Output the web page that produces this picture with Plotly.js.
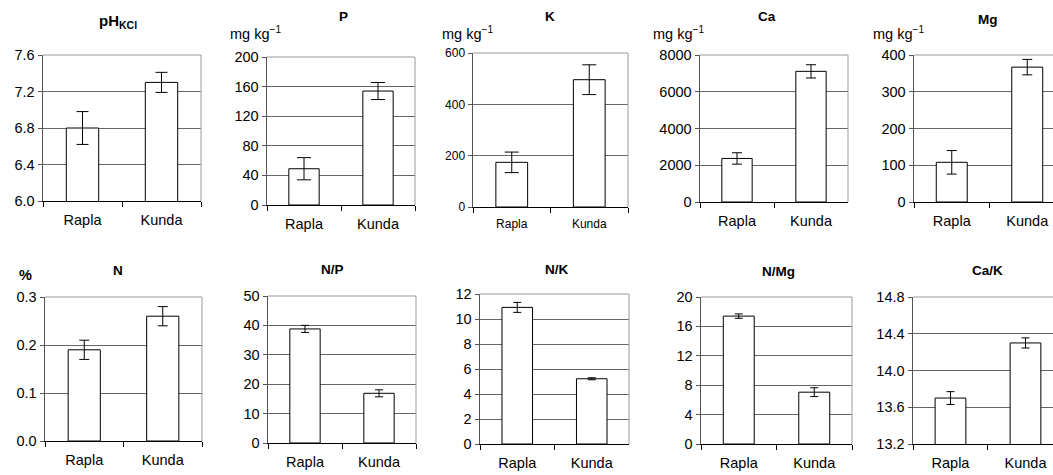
<!DOCTYPE html>
<html>
<head>
<meta charset="utf-8">
<script src="https://cdn.plot.ly/plotly-3.0.1.min.js"></script>
<style>html,body{margin:0;padding:0;background:#fff;}#chart{width:1053px;height:475px;}</style>
</head>
<body>
<div id="chart"></div>
<script>
// ---- data ----
const sites = ['Rapla', 'Kunda'];
const phVal = [6.8, 7.3];      const phErr = [0.18, 0.11];
const pVal = [49, 154];        const pErr = [15, 11.5];
const kVal = [174, 496];       const kErr = [40, 58];
const caVal = [2370, 7110];    const caErr = [310, 360];
const mgVal = [108, 367];      const mgErr = [32, 21];
const nVal = [0.19, 0.26];     const nErr = [0.02, 0.02];
const npVal = [38.8, 16.9];    const npErr = [1.2, 1.2];
const nkVal = [10.93, 5.22];   const nkErr = [0.4, 0.08];
const nmgVal = [17.4, 7.05];   const nmgErr = [0.3, 0.6];
const cakVal = [13.70, 14.30]; const cakErr = [0.07, 0.055];

const panelTitles = ['pH<sub>KCl</sub>', 'P', 'K', 'Ca', 'Mg', 'N', 'N/P', 'N/K', 'N/Mg', 'Ca/K'];
const unitLabels = ['', 'mg kg<sup>−1</sup>', 'mg kg<sup>−1</sup>', 'mg kg<sup>−1</sup>', 'mg kg<sup>−1</sup>', '<b>%</b>', '', '', '', ''];

// ---- layout geometry (pixels) ----
const W = 1053, H = 475;
const FONT = 'Liberation Sans, Arial, sans-serif';
const panels = [
  {v: phVal, e: phErr, box: [43, 201, 55, 201], yr: [6.0, 7.6], dt: 0.4, fmt: '.1f', xr: [-0.5, 1.5], cap: 6, fs: 14.5, title: [118, 21], unit: null, right: true},
  {v: pVal, e: pErr, box: [267, 415, 57, 205], yr: [0, 200], dt: 40, fmt: 'd', xr: [-0.5, 1.5], cap: 7, fs: 14.5, title: [343, 17], unit: [255, 33], right: true},
  {v: kVal, e: kErr, box: [473, 628, 53, 207], yr: [0, 600], dt: 200, fmt: 'd', xr: [-0.5, 1.5], cap: 7, fs: 12, title: [550, 17], unit: [467, 33], right: true},
  {v: caVal, e: caErr, box: [700, 848, 55, 202], yr: [0, 8000], dt: 2000, fmt: 'd', xr: [-0.5, 1.5], cap: 5, fs: 14.5, title: [767, 17], unit: [678, 33], right: true},
  {v: mgVal, e: mgErr, box: [914, 1053, 55, 202], yr: [0, 400], dt: 100, fmt: 'd', xr: [-0.5, 1.341], cap: 5, fs: 14.5, title: [988, 19], unit: [898, 33], right: false},
  {v: nVal, e: nErr, box: [45, 202, 297, 441], yr: [0, 0.3], dt: 0.1, fmt: '.1f', xr: [-0.5, 1.5], cap: 5, fs: 14.5, title: [118, 270], unit: [25, 275], right: true},
  {v: npVal, e: npErr, box: [268, 416, 296, 443], yr: [0, 50], dt: 10, fmt: 'd', xr: [-0.5, 1.5], cap: 4, fs: 14.5, title: [332, 269], unit: null, right: true},
  {v: nkVal, e: nkErr, box: [480, 629, 294, 444], yr: [0, 12], dt: 2, fmt: 'd', xr: [-0.5, 1.5], cap: 4, fs: 14.5, title: [557, 269], unit: null, right: true},
  {v: nmgVal, e: nmgErr, box: [701, 852, 297, 444], yr: [0, 20], dt: 4, fmt: 'd', xr: [-0.5, 1.5], cap: 4, fs: 14.5, title: [778, 271], unit: null, right: true},
  {v: cakVal, e: cakErr, box: [913, 1053, 297, 444], yr: [13.2, 14.8], dt: 0.4, fmt: '.1f', xr: [-0.5, 1.367], cap: 4, fs: 14.5, title: [987, 270], unit: null, right: false}
];

const traces = [];
const layout = {
  width: W, height: H,
  margin: {l: 0, r: 0, t: 0, b: 0},
  paper_bgcolor: '#fff', plot_bgcolor: '#fff',
  showlegend: false,
  bargap: 0.59,
  font: {family: FONT, color: '#000', size: 14},
  annotations: [],
  shapes: []
};

panels.forEach((p, i) => {
  const n = i + 1;
  const xa = n === 1 ? 'x' : 'x' + n;
  const ya = n === 1 ? 'y' : 'y' + n;
  traces.push({
    type: 'bar', x: sites, y: p.v, xaxis: xa, yaxis: ya,
    marker: {color: '#fff', line: {color: '#000', width: 1}},
    error_y: {type: 'data', array: p.e, visible: true, color: '#000', thickness: 1, width: p.cap},
    hoverinfo: 'skip'
  });
  const [x0, x1, y0, y1] = p.box;
  layout['xaxis' + (n === 1 ? '' : n)] = {
    domain: [x0 / W, x1 / W], anchor: ya, type: 'category', range: p.xr,
    showline: true, linecolor: '#000', linewidth: 1,
    ticks: 'outside', tickson: 'boundaries', ticklen: 5, tickcolor: '#000',
    showgrid: false, zeroline: false, fixedrange: true,
    tickfont: {size: p.fs, family: FONT, color: '#000'}, ticklabelstandoff: 6
  };
  layout['yaxis' + (n === 1 ? '' : n)] = {
    domain: [1 - y1 / H, 1 - y0 / H], anchor: xa, range: p.yr, dtick: p.dt, tick0: p.yr[0],
    tickformat: p.fmt,
    showline: true, linecolor: '#555', linewidth: 1.5,
    ticks: 'outside', ticklen: 4, tickcolor: '#555',
    showgrid: true, gridcolor: '#666', gridwidth: 1, zeroline: false, fixedrange: true,
    tickfont: {size: p.fs, family: FONT, color: '#000'}
  };
  layout.shapes.push({type: 'line', xref: xa + ' domain', yref: ya + ' domain', x0: 0, x1: 1, y0: 1, y1: 1,
    line: {color: '#999', width: 1}, layer: 'above'});
  if (p.right) {
    layout.shapes.push({type: 'line', xref: xa + ' domain', yref: ya + ' domain', x0: 1, x1: 1, y0: 0, y1: 1,
      line: {color: '#999', width: 1}, layer: 'above'});
  }
  layout.annotations.push({
    text: '<b>' + panelTitles[i] + '</b>', xref: 'paper', yref: 'paper',
    x: p.title[0] / W, y: 1 - p.title[1] / H, xanchor: 'center', yanchor: 'middle',
    showarrow: false, font: {size: i === 0 ? 15 : 13.5, family: FONT, color: '#000'}
  });
  if (p.unit) {
    layout.annotations.push({
      text: unitLabels[i], xref: 'paper', yref: 'paper',
      x: p.unit[0] / W, y: 1 - p.unit[1] / H, xanchor: 'center', yanchor: 'middle',
      showarrow: false, font: {size: 14.5, family: FONT, color: '#000'}
    });
  }
});

Plotly.newPlot('chart', traces, layout, {staticPlot: true, displayModeBar: false});
</script>
</body>
</html>
